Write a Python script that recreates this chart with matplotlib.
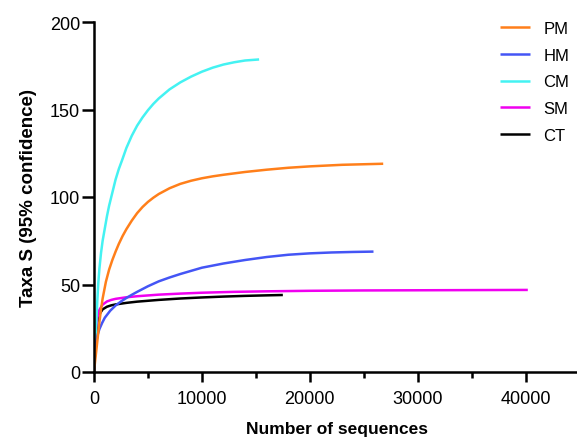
import matplotlib.pyplot as plt
from matplotlib.ticker import MultipleLocator

plt.rcParams['font.family'] = ['Liberation Sans', 'DejaVu Sans']

# Rarefaction curves
pm_x = [0, 100, 200, 350, 500, 650, 800, 1100, 1400, 1700, 2000, 2300, 2650,
        3000, 3500, 4000, 4500, 5000, 5500, 6000, 7000, 8000, 9000, 10000,
        11000, 12000, 14000, 16000, 18000, 20000, 23000, 26800]
pm_y = [0, 6, 11.5, 20, 28.5, 35.8, 42, 51.5, 58.5, 64, 68.8, 73.2, 77.7,
        81.6, 86.5, 90.8, 94.3, 97.2, 99.6, 101.7, 105, 107.5, 109.3, 110.7,
        111.8, 112.7, 114.3, 115.6, 116.7, 117.5, 118.4, 119]

hm_x = [0, 100, 200, 350, 500, 750, 1000, 1500, 2000, 2500, 3000, 3500, 4000,
        5000, 6000, 7000, 8000, 9000, 10000, 12000, 14000, 16000, 18000,
        20000, 22000, 24000, 25900]
hm_y = [0, 11, 17, 21.5, 24.5, 28, 31, 35, 38, 40.3, 42.3, 44.1, 45.8,
        49, 51.8, 54, 56, 57.8, 59.6, 62, 64, 65.7, 67,
        67.8, 68.3, 68.6, 68.8]

cm_x = [0, 100, 200, 300, 400, 500, 650, 800, 1000, 1200, 1400, 1700, 2000,
        2300, 2600, 3000, 3500, 4000, 4500, 5000, 5500, 6000, 7000, 8000,
        9000, 10000, 11000, 12000, 13000, 14000, 15300]
cm_y = [0, 14, 26, 40, 51, 59, 68, 75, 82, 89, 95, 102.5, 110,
        116, 121, 128, 135, 140.8, 145.5, 149.6, 153.2, 156.3, 161.5, 165.5,
        168.8, 171.6, 173.9, 175.7, 177, 178, 178.6]

sm_x = [0, 100, 200, 300, 500, 800, 1200, 1600, 2000, 3000, 4000, 6000, 8000,
        10000, 13000, 16000, 20000, 25000, 30000, 35000, 40200]
sm_y = [0, 14, 25, 31, 35.5, 38.5, 40.3, 41.2, 41.8, 42.7, 43.3, 44.2, 44.8,
        45.3, 45.8, 46.1, 46.4, 46.6, 46.7, 46.8, 46.9]

ct_x = [0, 100, 200, 300, 500, 800, 1200, 1600, 2000, 3000, 4000, 6000, 8000,
        10000, 12000, 14000, 16000, 17500]
ct_y = [0, 12, 22, 28, 33, 35.8, 37.3, 38.1, 38.6, 39.5, 40.2, 41.2, 42,
        42.6, 43.1, 43.5, 43.8, 44]

series = [
    ('PM', pm_x, pm_y, '#FF7F1A'),
    ('HM', hm_x, hm_y, '#4455F5'),
    ('CM', cm_x, cm_y, '#44F2F2'),
    ('SM', sm_x, sm_y, '#F000F0'),
    ('CT', ct_x, ct_y, '#000000'),
]

fig = plt.figure(figsize=(5.77, 4.39), dpi=100)
ax = fig.add_axes([94 / 577, 66 / 439, 485.6 / 577, 350 / 439])

# draw in reverse so PM ends up on top like the original
for name, xs, ys, col in series[::-1]:
    ax.plot(xs, ys, color=col, lw=1.8, label=name,
            solid_capstyle='butt', solid_joinstyle='round')

ax.set_xlim(0, 45000)
ax.set_ylim(0, 200)
ax.xaxis.set_major_locator(MultipleLocator(10000))
ax.xaxis.set_minor_locator(MultipleLocator(5000))
ax.yaxis.set_major_locator(MultipleLocator(50))

for s in ['top', 'right']:
    ax.spines[s].set_visible(False)
for s in ['left', 'bottom']:
    ax.spines[s].set_linewidth(1.8)

ax.tick_params(axis='x', which='major', length=7, width=1.8, labelsize=13, pad=6)
ax.tick_params(axis='x', which='minor', length=4, width=1.8)
ax.tick_params(axis='y', which='major', length=9, width=1.8, labelsize=13, pad=1)

ax.set_xlabel('Number of sequences', fontsize=12.5, fontweight='bold', labelpad=10)
ax.set_ylabel('Taxa S (95% confidence)', fontsize=13.5, fontweight='bold', labelpad=9)

handles, labels = ax.get_legend_handles_labels()
fig.legend(handles[::-1], labels[::-1], loc='upper left',
           bbox_to_anchor=(500 / 577, 1 - 22 / 439), frameon=False,
           fontsize=12, handlelength=1.8, handletextpad=0.8, labelspacing=0.7,
           borderpad=0, borderaxespad=0)

fig.savefig('out.png', dpi=100)
